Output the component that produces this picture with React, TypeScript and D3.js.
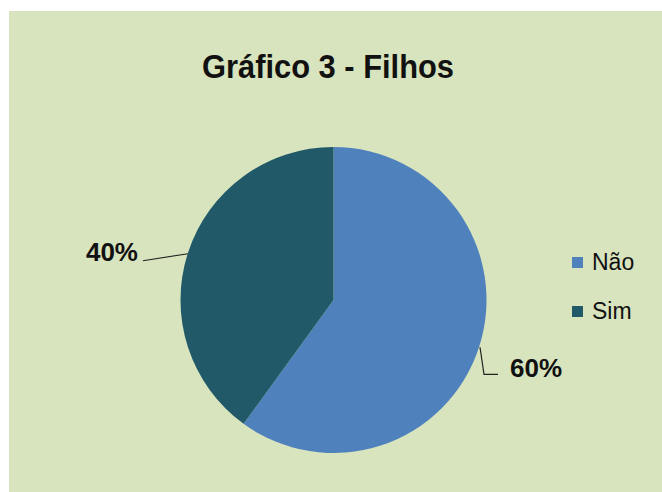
import React from "react";
import * as d3 from "d3";

const categories = ["Não", "Sim"];
const values = [60, 40];
const labels = ["60%", "40%"];
const colors = ["#4F81BD", "#215968"];
const title = "Gráfico 3 - Filhos";

export default function App() {
  const W = 662, H = 492;
  const cx = 333.5, cy = 300, r = 153;
  const pie = d3.pie<number>().sort(null).value((d) => d)(values);
  const arc = d3.arc<d3.PieArcDatum<number>>().innerRadius(0).outerRadius(r);
  const font = "'Liberation Sans', Arial, sans-serif";

  const mid = (a: d3.PieArcDatum<number>) => {
    const ang = (a.startAngle + a.endAngle) / 2;
    return [cx + r * Math.sin(ang), cy - r * Math.cos(ang), Math.sin(ang)];
  };

  return (
    <svg width={W} height={H} style={{ position: "absolute", left: 0, top: 0 }}>
      <rect x={0} y={0} width={W} height={H} fill="#ffffff" />
      <rect x={9} y={11} width={W - 9} height={H - 11} fill="#D8E4BD" />
      <text x={328} y={78} textAnchor="middle" fontFamily={font} fontWeight="bold" fontSize={34}
        textLength={252} lengthAdjust="spacingAndGlyphs" fill="#111">{title}</text>
      <g transform={`translate(${cx},${cy})`}>
        {pie.map((p, i) => (
          <path key={categories[i]} d={arc(p) || ""} fill={colors[i]} />
        ))}
      </g>
      {pie.map((p, i) => {
        const [mx, my, side] = mid(p);
        if (side > 0) {
          const pts = [[mx + 1, my], [mx + 5, my + 27], [mx + 19, my + 27]];
          return (
            <g key={"l" + i}>
              <polyline points={pts.map((q) => q.join(",")).join(" ")} fill="none" stroke="#222" strokeWidth={1.2} />
              <text x={mx + 31} y={my + 30} fontFamily={font} fontWeight="bold" fontSize={26} fill="#111">{labels[i]}</text>
            </g>
          );
        } else {
          const pts = [[mx, my + 1], [mx - 45, my + 8]];
          return (
            <g key={"l" + i}>
              <polyline points={pts.map((q) => q.join(",")).join(" ")} fill="none" stroke="#222" strokeWidth={1.2} />
              <text x={mx - 50} y={my + 8} textAnchor="end" fontFamily={font} fontWeight="bold" fontSize={26} fill="#111">{labels[i]}</text>
            </g>
          );
        }
      })}
      {categories.map((c, i) => (
        <g key={"lg" + c} transform={`translate(572,${257 + i * 49})`}>
          <rect x={0} y={0} width={11} height={11} fill={colors[i]} />
          <text x={20} y={13} fontFamily={font} fontSize={23} fill="#111">{c}</text>
        </g>
      ))}
    </svg>
  );
}
